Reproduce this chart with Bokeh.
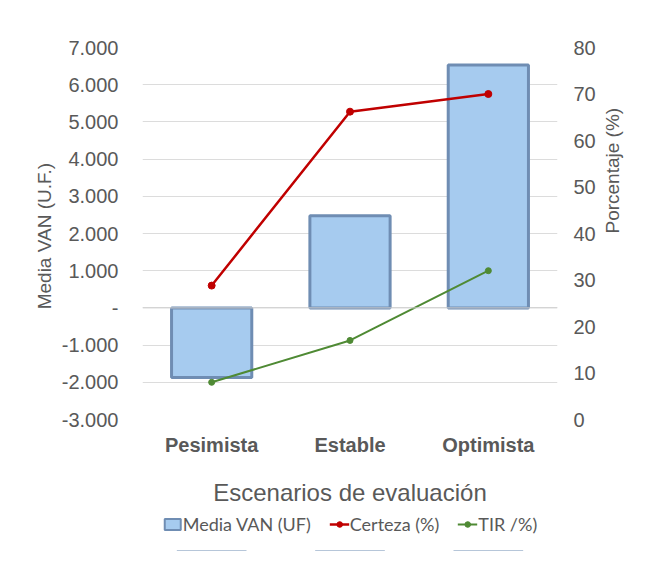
import math
from bokeh.plotting import figure
from bokeh.layouts import column
from bokeh.models import (Range1d, LinearAxis, FixedTicker, Legend, LegendItem,
                          Span, ColumnDataSource, FactorRange)
from bokeh.embed import file_html
from bokeh.resources import INLINE

categories = ["Pesimista", "Estable", "Optimista"]
media_van = [-1870, 2480, 6530]
certeza = [28.8, 66.2, 70.0]
tir = [8.0, 17.0, 32.0]
left_ticks = [-3000, -2000, -1000, 0, 1000, 2000, 3000, 4000, 5000, 6000, 7000]
left_labels = ["-3.000", "-2.000", "-1.000", "-", "1.000", "2.000", "3.000",
               "4.000", "5.000", "6.000", "7.000"]
right_ticks = [0, 10, 20, 30, 40, 50, 60, 70, 80]
legend_labels = ["Media VAN (UF)", "Certeza (%)", "TIR /%)"]

GRAY = "#595959"
FONT = "Liberation Sans"
BAR_FILL = "#a6cbef"
BAR_LINE = "#6f8db3"
RED = "#c00000"
GREEN = "#4f8a34"

src = ColumnDataSource(dict(cat=categories, van=media_van, cert=certeza, tir=tir))

p = figure(x_range=FactorRange(*categories, range_padding=0.0),
           y_range=Range1d(-3000, 7000),
           frame_width=415, frame_height=372,
           min_border_left=142, min_border_top=47, min_border_right=88,
           min_border_bottom=92,
           output_backend="svg", toolbar_location=None)
p.outline_line_color = None
p.background_fill_color = "white"
p.border_fill_color = "white"

p.extra_y_ranges = {"pct": Range1d(0, 80)}

# grid
p.xgrid.grid_line_color = None
p.ygrid.ticker = FixedTicker(ticks=left_ticks)
p.ygrid.grid_line_color = "#dcdcdc"
p.ygrid.grid_line_width = 1

# left axis
ya = p.yaxis[0]
ya.ticker = FixedTicker(ticks=left_ticks)
ya.major_label_overrides = {t: l for t, l in zip(left_ticks, left_labels)}
ya.axis_line_color = None
ya.major_tick_line_color = None
ya.minor_tick_line_color = None
ya.major_label_text_font = FONT
ya.major_label_text_font_size = "20px"
ya.major_label_text_color = GRAY
ya.major_label_standoff = 18
ya.axis_label = "Media  VAN (U.F.)"
ya.axis_label_text_font = FONT
ya.axis_label_text_font_size = "19px"
ya.axis_label_text_font_style = "normal"
ya.axis_label_text_color = GRAY
ya.axis_label_standoff = 4

# right axis
ra = LinearAxis(y_range_name="pct", ticker=FixedTicker(ticks=right_ticks))
ra.axis_line_color = None
ra.major_tick_line_color = None
ra.minor_tick_line_color = None
ra.major_label_text_font = FONT
ra.major_label_text_font_size = "20px"
ra.major_label_text_color = GRAY
ra.major_label_standoff = 10
ra.axis_label = "Porcentaje (%)"
ra.axis_label_text_font = FONT
ra.axis_label_text_font_size = "19px"
ra.axis_label_text_font_style = "normal"
ra.axis_label_text_color = GRAY
ra.axis_label_standoff = 14
ra.axis_label_orientation = math.pi / 2
p.add_layout(ra, "right")

# x axis
xa = p.xaxis[0]
xa.axis_line_color = None
xa.major_tick_line_color = None
xa.minor_tick_line_color = None
xa.major_label_text_font = FONT
xa.major_label_text_font_size = "20px"
xa.major_label_text_font_style = "bold"
xa.major_label_text_color = GRAY
xa.major_label_standoff = 8
xa.axis_label = "Escenarios de evaluación"
xa.axis_label_text_font = FONT
xa.axis_label_text_font_size = "24px"
xa.axis_label_text_font_style = "normal"
xa.axis_label_text_color = GRAY
xa.axis_label_standoff = 20

# zero line
p.add_layout(Span(location=0, dimension="width", line_color="#d0d0d0", line_width=1))

# bars
p.vbar(x="cat", top="van", bottom=0, width=0.58, source=src,
       fill_color=BAR_FILL, line_color=BAR_LINE, line_width=3)

# lines
p.line(x="cat", y="cert", source=src, y_range_name="pct",
       line_color=RED, line_width=2.5)
p.scatter(x="cat", y="cert", source=src, y_range_name="pct",
          size=7, fill_color=RED, line_color=RED)
p.line(x="cat", y="tir", source=src, y_range_name="pct",
       line_color=GREEN, line_width=2)
p.scatter(x="cat", y="tir", source=src, y_range_name="pct",
          size=6, fill_color=GREEN, line_color=GREEN)

# legend strip (separate small figure under the chart); its glyphs use the
# same data but fall below this strip's ranges, so only the legend shows
q = figure(width=p.min_border_left + 415 + p.min_border_right, height=40,
           x_range=FactorRange(*categories), y_range=Range1d(20000, 40000),
           min_border_left=0, min_border_right=0, min_border_top=0, min_border_bottom=0,
           output_backend="svg", toolbar_location=None)
q.axis.visible = False
q.grid.visible = False
q.outline_line_color = None
q.border_fill_color = "white"
q.background_fill_color = "white"
q.extra_y_ranges = {"pct": Range1d(200, 400)}

lb = q.vbar(x="cat", top="van", bottom=0, width=0.5, source=src,
            fill_color=BAR_FILL, line_color=BAR_LINE, line_width=2)
lr1 = q.line(x="cat", y="cert", source=src, y_range_name="pct",
             line_color=RED, line_width=2.5)
lr2 = q.scatter(x="cat", y="cert", source=src, y_range_name="pct",
                size=6, fill_color=RED, line_color=RED)
lg1 = q.line(x="cat", y="tir", source=src, y_range_name="pct",
             line_color=GREEN, line_width=2)
lg2 = q.scatter(x="cat", y="tir", source=src, y_range_name="pct",
                size=5, fill_color=GREEN, line_color=GREEN)

legend = Legend(items=[
    LegendItem(label=legend_labels[0], renderers=[lb]),
    LegendItem(label=legend_labels[1], renderers=[lr1, lr2]),
    LegendItem(label=legend_labels[2], renderers=[lg1, lg2]),
], orientation="horizontal", location="top_center")
legend.label_text_font = "Lato"
legend.label_text_font_size = "18px"
legend.label_text_color = GRAY
legend.border_line_color = None
legend.background_fill_alpha = 0
legend.glyph_width = 20
legend.glyph_height = 14
legend.label_standoff = 1
legend.spacing = 18
legend.padding = 0
legend.margin = 2
q.add_layout(legend, "center")

layout = column(p, q, spacing=0)
open("out.html", "w").write(file_html(layout, INLINE))
